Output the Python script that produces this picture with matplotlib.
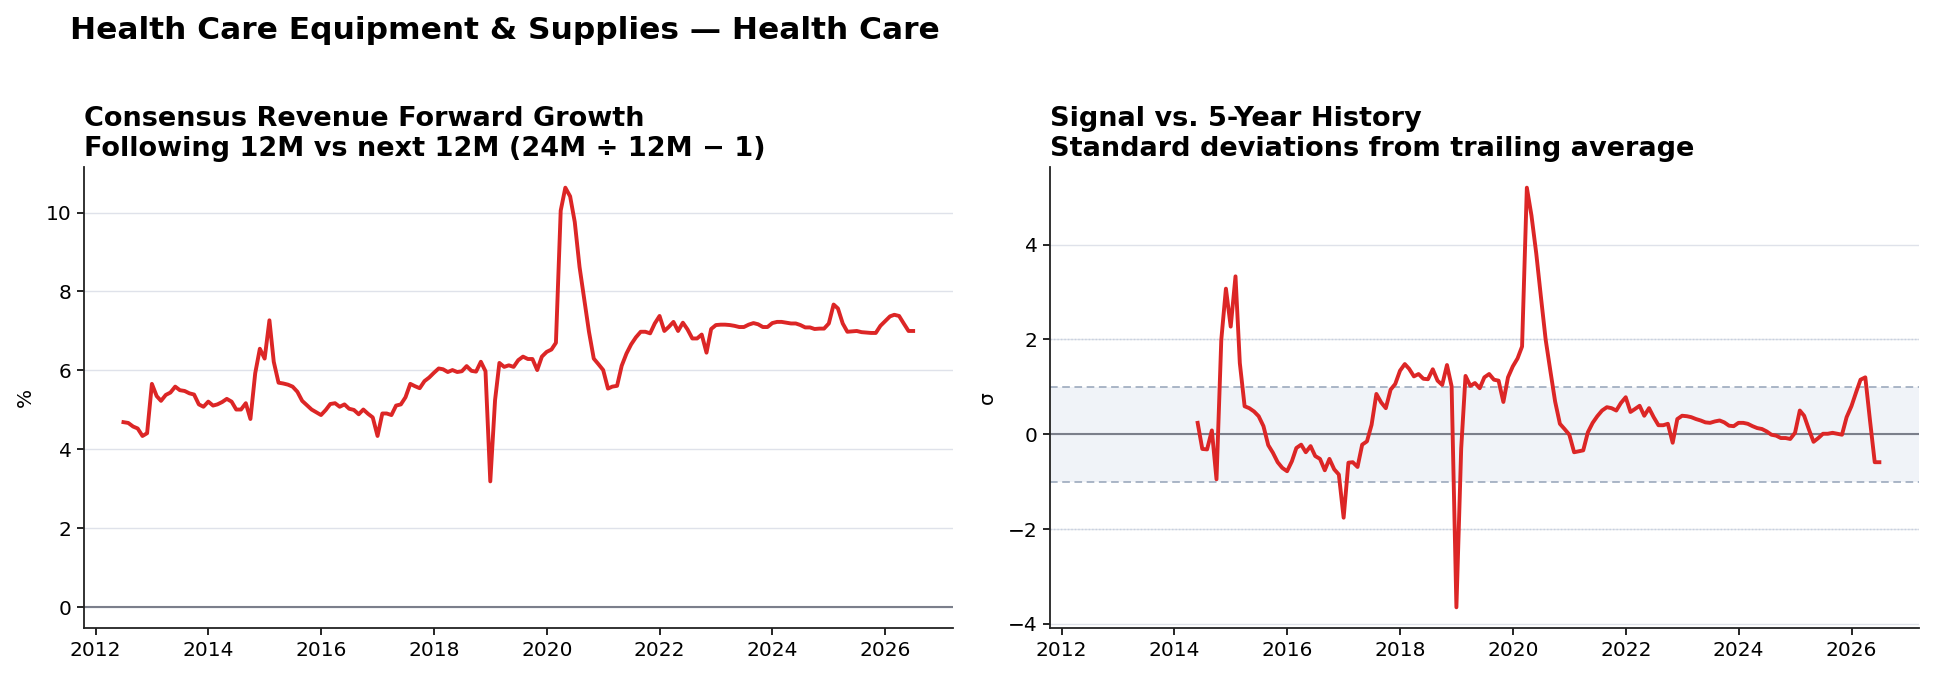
import numpy as np
import pandas as pd
import matplotlib
matplotlib.use("Agg")
import matplotlib.pyplot as plt
import matplotlib.dates as mdates

# monthly consensus forward revenue growth (%), month-end from Jun 2012
growth = [4.69, 4.67, 4.58, 4.53, 4.34, 4.41, 5.66, 5.35, 5.23, 5.38,
          5.44, 5.59, 5.50, 5.48, 5.42, 5.39, 5.14, 5.08, 5.21, 5.11,
          5.14, 5.20, 5.28, 5.21, 5.01, 5.01, 5.17, 4.77, 5.93, 6.55,
          6.30, 7.27, 6.22, 5.69, 5.67, 5.64, 5.59, 5.46, 5.23, 5.12,
          5.01, 4.94, 4.87, 5.00, 5.15, 5.17, 5.08, 5.14, 5.03, 5.00,
          4.89, 5.01, 4.90, 4.81, 4.34, 4.91, 4.91, 4.87, 5.11, 5.14,
          5.32, 5.66, 5.60, 5.55, 5.73, 5.82, 5.94, 6.05, 6.03, 5.96,
          6.01, 5.96, 5.98, 6.11, 5.99, 5.97, 6.22, 5.98, 3.19, 5.25,
          6.19, 6.09, 6.13, 6.09, 6.26, 6.35, 6.29, 6.29, 6.01, 6.35,
          6.47, 6.53, 6.70, 10.05, 10.63, 10.41, 9.76, 8.62, 7.78, 6.98,
          6.30, 6.16, 6.01, 5.54, 5.59, 5.61, 6.12, 6.43, 6.66, 6.84,
          6.98, 6.98, 6.94, 7.19, 7.38, 7.00, 7.10, 7.23, 7.00, 7.21,
          7.04, 6.81, 6.81, 6.91, 6.45, 7.05, 7.15, 7.16, 7.16, 7.15,
          7.13, 7.10, 7.10, 7.16, 7.20, 7.17, 7.10, 7.10, 7.20, 7.23,
          7.23, 7.21, 7.19, 7.19, 7.15, 7.09, 7.09, 7.05, 7.06, 7.06,
          7.19, 7.67, 7.57, 7.19, 6.98, 6.99, 7.00, 6.97, 6.96, 6.95,
          6.95, 7.13, 7.25, 7.37, 7.41, 7.38, 7.19, 7.00, 7.00]

# z-score vs trailing 5y history, month-end from May 2014
zscore = [0.24, -0.31, -0.32, 0.08, -0.95, 1.99, 3.07,
          2.27, 3.33, 1.50, 0.59, 0.55, 0.48, 0.38, 0.17, -0.23, -0.39,
          -0.59, -0.71, -0.78, -0.57, -0.29, -0.22, -0.38, -0.25, -0.46, -0.52,
          -0.76, -0.52, -0.74, -0.85, -1.76, -0.60, -0.59, -0.69, -0.22, -0.15,
          0.20, 0.85, 0.67, 0.55, 0.94, 1.06, 1.34, 1.48, 1.38, 1.22,
          1.27, 1.17, 1.16, 1.37, 1.13, 1.04, 1.46, 1.01, -3.65, -0.30,
          1.23, 1.02, 1.08, 0.97, 1.20, 1.27, 1.15, 1.13, 0.68, 1.20,
          1.43, 1.60, 1.85, 5.20, 4.61, 3.81, 2.90, 1.99, 1.32, 0.69,
          0.22, 0.11, -0.01, -0.38, -0.36, -0.34, 0.04, 0.24, 0.38, 0.50,
          0.57, 0.55, 0.50, 0.66, 0.78, 0.47, 0.53, 0.60, 0.39, 0.55,
          0.36, 0.19, 0.19, 0.22, -0.18, 0.32, 0.39, 0.38, 0.36, 0.32,
          0.29, 0.25, 0.24, 0.27, 0.29, 0.25, 0.18, 0.17, 0.24, 0.24,
          0.22, 0.17, 0.13, 0.11, 0.06, -0.01, -0.03, -0.08, -0.08, -0.10,
          0.03, 0.50, 0.39, 0.10, -0.16, -0.08, 0.01, 0.01, 0.03, 0.01,
          -0.01, 0.36, 0.59, 0.89, 1.15, 1.20, 0.30, -0.59, -0.59]

dates_g = pd.date_range("2012-06-30", periods=len(growth), freq="ME")
dates_z = pd.date_range("2014-05-31", periods=len(zscore), freq="ME")

suptitle = "Health Care Equipment & Supplies \u2014 Health Care"
title_l = "Consensus Revenue Forward Growth\nFollowing 12M vs next 12M (24M \u00f7 12M \u2212 1)"
title_r = "Signal vs. 5-Year History\nStandard deviations from trailing average"

RED = "#dc2626"
GRID = "#dfe2ea"
ZERO = "#7b7f8b"
BAND = "#f0f3f8"
BANDLINE = "#94a3b8"

plt.rcParams["font.family"] = "DejaVu Sans"
fig = plt.figure(figsize=(19.34, 6.79), dpi=100)
ax1 = fig.add_axes([0.0434, 0.0747, 0.4492, 0.6798])
ax2 = fig.add_axes([0.5429, 0.0747, 0.4493, 0.6798])

fig.text(70 / 1934, 1 - 30.5 / 679, suptitle, fontsize=22.5, fontweight="bold",
         ha="left", va="center")

# left panel
ax1.plot(dates_g, growth, color=RED, lw=2.8, zorder=3)
ax1.axhline(0, color=ZERO, lw=1.5, zorder=2)
ax1.set_yticks([0, 2, 4, 6, 8, 10])
ax1.set_ylabel("%", fontsize=14.5, labelpad=8)
ax1.set_title(title_l, loc="left", fontsize=19.5, fontweight="bold", pad=8)

# right panel
ax2.axhspan(-1, 1, color=BAND, zorder=0, lw=0)
ax2.axhline(1, color=BANDLINE, lw=1.1, ls=(0, (5, 3)), zorder=1)
ax2.axhline(-1, color=BANDLINE, lw=1.1, ls=(0, (5, 3)), zorder=1)
ax2.axhline(2, color="#c6d0de", lw=1.0, ls=(0, (1, 1.5)), zorder=1)
ax2.axhline(-2, color="#c6d0de", lw=1.0, ls=(0, (1, 1.5)), zorder=1)
ax2.plot(dates_z, zscore, color=RED, lw=2.8, zorder=3)
ax2.axhline(0, color=ZERO, lw=1.5, zorder=2)
ax2.set_yticks([-4, -2, 0, 2, 4])
ax2.set_ylabel("\u03c3", fontsize=14.5, labelpad=8)
ax2.set_title(title_r, loc="left", fontsize=19.5, fontweight="bold", pad=8)

for ax in (ax1, ax2):
    ax.set_xlim(dates_g[0] - pd.Timedelta(days=256), dates_g[-1] + pd.Timedelta(days=256))
    ax.xaxis.set_major_locator(mdates.YearLocator(2))
    ax.xaxis.set_major_formatter(mdates.DateFormatter("%Y"))
    ax.spines["top"].set_visible(False)
    ax.spines["right"].set_visible(False)
    ax.spines["left"].set_linewidth(1.3)
    ax.spines["bottom"].set_linewidth(1.3)
    ax.spines["left"].set_color("#222222")
    ax.spines["bottom"].set_color("#222222")
    ax.tick_params(labelsize=14.5, length=5, width=1.2, pad=4)
    ax.grid(axis="y", color=GRID, lw=1.0)
    ax.set_axisbelow(True)

fig.savefig("out.png", dpi=100)
